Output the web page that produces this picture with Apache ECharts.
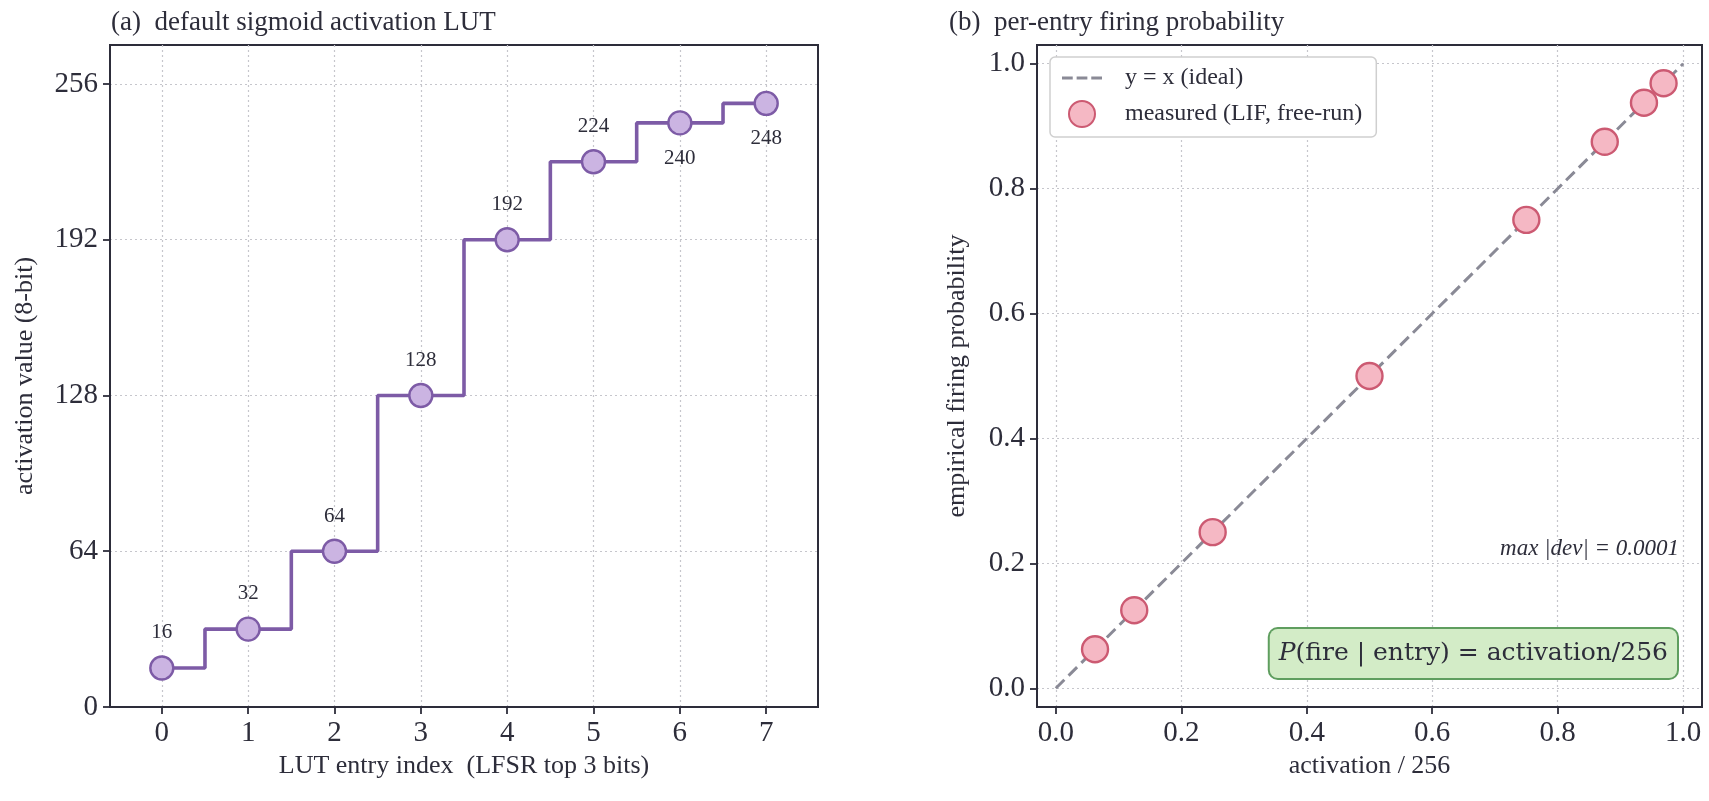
<!DOCTYPE html>
<html>
<head>
<meta charset="utf-8">
<title>sigmoid activation LUT</title>
<style>
    body{margin:0;padding:0;background:#fff;}
    #main{width:1709px;height:801px;}
</style>
</head>
<body>
<div id="main"></div>
<script src="https://cdn.jsdelivr.net/npm/echarts@6/dist/echarts.min.js"></script>
<script>
// panel (a): LUT entries
var lutIndex = [0, 1, 2, 3, 4, 5, 6, 7];
var lutValue = [16, 32, 64, 128, 192, 224, 240, 248];
var lutTicks = [0, 64, 128, 192, 256];
var labelBelow = [6, 7];   // entries whose value label sits under the marker

// panel (b): measured firing probability per entry
var measuredX = [0.0625, 0.125, 0.25, 0.5, 0.75, 0.875, 0.9375, 0.96875];
var measuredY = [0.0625, 0.125, 0.25, 0.5, 0.75, 0.875, 0.9376, 0.9688];
var probTicks = [0, 0.2, 0.4, 0.6, 0.8, 1.0];
var idealLine = [[0, 0], [1, 1]];

var serif = "'Liberation Serif', 'DejaVu Serif', serif";
var ink = '#2d2d3a';
var dashGrey = '#8a8a96';
var gridLine = {show: true, lineStyle: {type: [2, 3], color: '#c6c6cc', width: 1.2}};

function axis(gi, min, max, ticks, name, gap, fmt) {
    return {
        gridIndex: gi, type: 'value', min: min, max: max,
        axisLine: {show: true, onZero: false, lineStyle: {color: ink, width: 2}},
        axisTick: {show: true, length: 7, customValues: ticks, lineStyle: {color: ink, width: 1.8}},
        axisLabel: {customValues: ticks, fontSize: 29, fontFamily: serif, color: ink, margin: 12,
            formatter: fmt},
        splitLine: gridLine,
        name: name, nameLocation: 'middle', nameGap: gap,
        nameTextStyle: {fontSize: 26, fontFamily: serif, color: ink}
    };
}

var stepData = lutIndex.map(function (x, i) {
    return {
        value: [x, lutValue[i]],
        label: {position: labelBelow.indexOf(i) >= 0 ? 'bottom' : 'top'}
    };
});
var scatterData = measuredX.map(function (x, i) { return [x, measuredY[i]]; });

var myChart = echarts.init(document.getElementById('main'));
var option = {
    backgroundColor: '#fff',
    animation: false,
    title: [
        {text: '(a)  default sigmoid activation LUT', left: 106, top: 4,
            textStyle: {fontSize: 27, fontWeight: 'normal', fontFamily: serif, color: ink}},
        {text: '(b)  per-entry firing probability', left: 944, top: 4,
            textStyle: {fontSize: 27, fontWeight: 'normal', fontFamily: serif, color: ink}}
    ],
    grid: [
        {left: 110, top: 45, width: 708, height: 662, show: true,
            borderColor: ink, borderWidth: 2, outerBoundsMode: 'none'},
        {left: 1037, top: 45, width: 665, height: 662, show: true,
            borderColor: ink, borderWidth: 2, outerBoundsMode: 'none'}
    ],
    xAxis: [
        axis(0, -0.6, 7.6, lutIndex, 'LUT entry index  (LFSR top 3 bits)', 30),
        axis(1, -0.03, 1.03, probTicks, 'activation / 256', 30,
            function (v) { return v.toFixed(1); })
    ],
    yAxis: [
        axis(0, 0, 272, lutTicks, 'activation value (8-bit)', 72),
        axis(1, -0.03, 1.03, probTicks, 'empirical firing probability', 67,
            function (v) { return v.toFixed(1); })
    ],
    legend: {
        orient: 'vertical', left: 1050, top: 57,
        selectedMode: false,
        backgroundColor: '#fff', borderColor: '#cfcfcf', borderWidth: 1.5, borderRadius: 5,
        padding: [9, 14, 9, 12], itemGap: 10, itemWidth: 40, itemHeight: 26,
        textStyle: {fontSize: 24, fontFamily: serif, color: ink, padding: [0, 0, 0, 18]},
        data: [
            {name: 'y = x (ideal)', icon: 'path://M0,0h11v3H0zM15,0h11v3H15zM30,0h11v3H30z',
                itemStyle: {color: dashGrey}},
            {name: 'measured (LIF, free-run)'}
        ]
    },
    series: [
        {
            type: 'line', step: 'middle', xAxisIndex: 0, yAxisIndex: 0,
            data: stepData,
            symbol: 'circle', symbolSize: 23,
            lineStyle: {color: '#7d5ba6', width: 3.6},
            itemStyle: {color: '#cbb4e2', borderColor: '#7d5ba6', borderWidth: 2.4},
            label: {show: true, distance: 12, fontSize: 21, fontFamily: serif, color: ink,
                formatter: function (p) { return p.value[1]; }},
            z: 3
        },
        {
            name: 'y = x (ideal)', type: 'line', xAxisIndex: 1, yAxisIndex: 1,
            data: idealLine, symbol: 'none',
            lineStyle: {color: dashGrey, width: 3, type: [12, 6]},
            itemStyle: {color: dashGrey},
            z: 2
        },
        {
            name: 'measured (LIF, free-run)', type: 'scatter', xAxisIndex: 1, yAxisIndex: 1,
            data: scatterData, symbol: 'circle', symbolSize: 26,
            itemStyle: {color: '#f5b8c4', borderColor: '#cc5a72', borderWidth: 2.4, opacity: 1},
            z: 3
        }
    ],
    graphic: [
        {type: 'text', right: 30, top: 537, z: 10,
            style: {text: 'max |dev| = 0.0001', fontSize: 23, fontStyle: 'italic',
                fontFamily: serif, fill: ink}},
        {type: 'text', right: 30, top: 627, z: 10,
            style: {
                text: '{i|P}(fire | entry) = activation/256',
                fontSize: 25, fontFamily: "'DejaVu Serif', serif", fill: ink,
                backgroundColor: '#d3ecc7', borderColor: '#5f9e5f', borderWidth: 2,
                borderRadius: 8, padding: [12, 9, 12, 9],
                rich: {i: {fontSize: 25, fontStyle: 'italic', fontFamily: "'DejaVu Serif', serif", fill: ink}}
            }}
    ]
};
myChart.setOption(option);
</script>
</body>
</html>
